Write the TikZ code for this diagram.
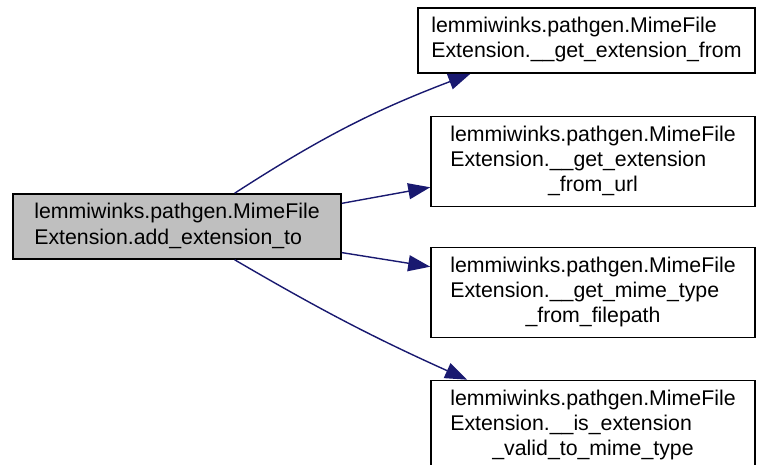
\documentclass[tikz,border=0pt]{standalone}
\usepackage{fontspec}
\setmainfont{Liberation Sans}
\usepackage{tikz}
\usetikzlibrary{arrows.meta}

\definecolor{calledge}{RGB}{25,25,112}
\definecolor{curfill}{RGB}{191,191,191}
\newcommand{\fnlabel}[1]{\begin{tabular}{@{}l@{}}#1\end{tabular}}
\newcommand{\tailline}[1]{\multicolumn{1}{@{}c@{}}{#1}}

\begin{document}
\begin{tikzpicture}[x=1pt, y=1pt,
    fn/.style={draw, line width=1.6pt, inner sep=0pt, minimum width=324pt,
      minimum height=90pt, font=\fontsize{21.3pt}{25pt}\selectfont},
    cur/.style={fn, fill=curfill, minimum width=328pt, minimum height=65pt},
    call/.style={-{Triangle[length=22pt, width=16pt]}, line width=1.4pt,
      draw=calledge}
  ]
    \useasboundingbox (0,0) rectangle (757,-465);

    \node[cur] (src) at (177,-226.5)
      {\fnlabel{lemmiwinks.pathgen.MimeFile\\Extension.add\_extension\_to}};

    \node[fn, minimum width=337pt, minimum height=65pt] (f1) at (586.5,-40.5)
      {\fnlabel{lemmiwinks.pathgen.MimeFile\\Extension.\_\_get\_extension\_from}};
    \node[fn] (f2) at (593,-161.5)
      {\fnlabel{lemmiwinks.pathgen.MimeFile\\Extension.\_\_get\_extension\\
       \tailline{\_from\_url}}};
    \node[fn] (f3) at (593,-292.5)
      {\fnlabel{lemmiwinks.pathgen.MimeFile\\Extension.\_\_get\_mime\_type\\
       \tailline{\_from\_filepath}}};
    \node[fn] (f4) at (593,-425.5)
      {\fnlabel{lemmiwinks.pathgen.MimeFile\\Extension.\_\_is\_extension\\
       \tailline{\_valid\_to\_mime\_type}}};

    \draw[call] (src.30) to[bend left=6] (f1.196);
    \draw[call] (src.8) -- (f2.189);
    \draw[call] (src.-9) -- (f3.171);
    \draw[call] (src.-30) to[bend right=3] (f4.160);
\end{tikzpicture}
\end{document}
